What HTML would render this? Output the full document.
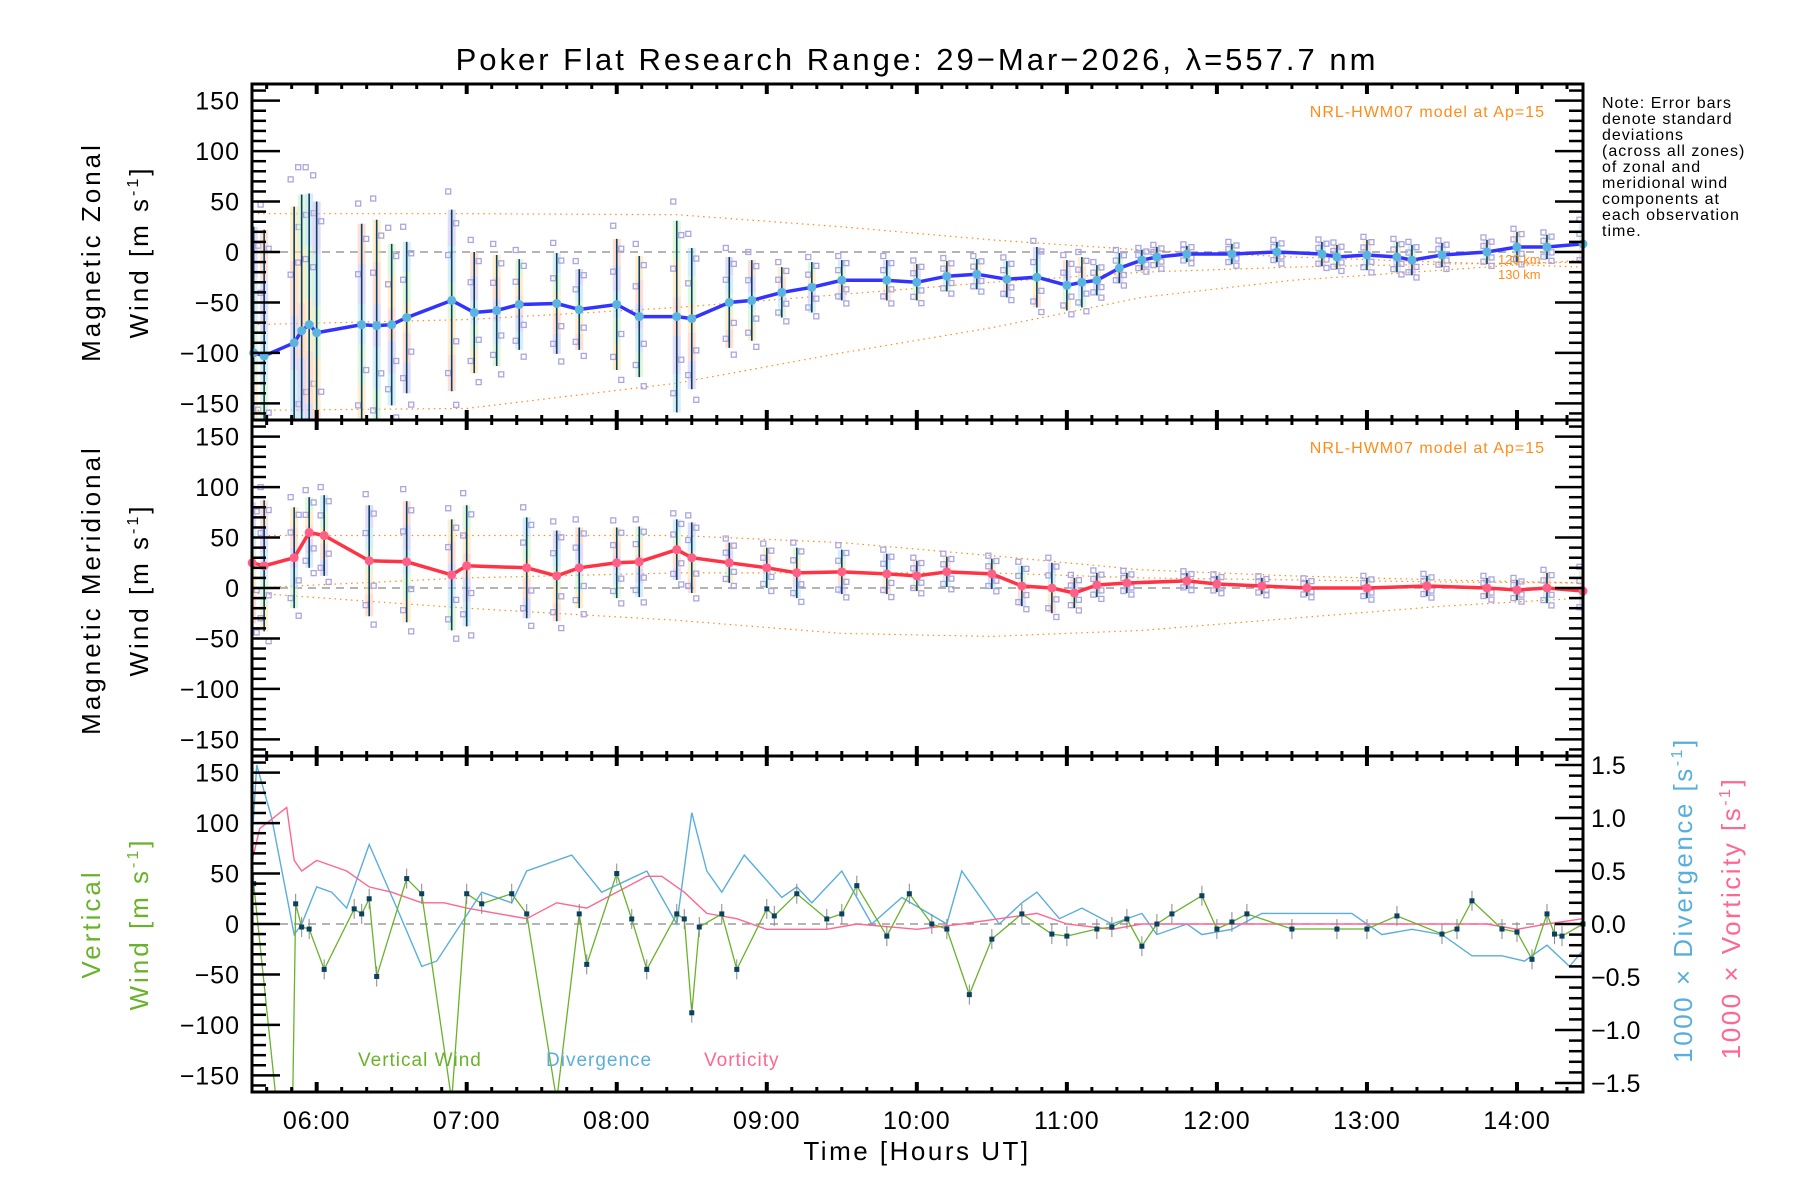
<!DOCTYPE html>
<html><head><meta charset="utf-8"><style>
html,body{margin:0;padding:0;background:#fff;}
svg{display:block;font-family:"Liberation Sans","DejaVu Sans",sans-serif;}
</style></head><body>
<svg id="chart" width="1800" height="1200" viewBox="0 0 1800 1200" xmlns="http://www.w3.org/2000/svg">
<text x="917" y="70" font-size="31" letter-spacing="3" text-anchor="middle" fill="#000">Poker Flat Research Range: 29−Mar−2026, λ=557.7 nm</text>
<g id="layer"></g>
<text x="917" y="1160" font-size="26" letter-spacing="2.5" text-anchor="middle">Time [Hours UT]</text>
<g font-size="16" letter-spacing="1" fill="#000">
<text x="1602" y="108">Note: Error bars</text><text x="1602" y="124">denote standard</text><text x="1602" y="140">deviations</text><text x="1602" y="156">(across all zones)</text><text x="1602" y="172">of zonal and</text><text x="1602" y="188">meridional wind</text><text x="1602" y="204">components at</text><text x="1602" y="220">each observation</text><text x="1602" y="236">time.</text>
</g>
<text transform="translate(100,252) rotate(-90)" font-size="26" letter-spacing="3" text-anchor="middle">Magnetic Zonal</text>
<text transform="translate(148,252) rotate(-90)" font-size="26" letter-spacing="3" text-anchor="middle">Wind [m s<tspan font-size="16" dy="-10">-1</tspan><tspan dy="10">]</tspan></text>
<text transform="translate(100,590) rotate(-90)" font-size="26" letter-spacing="3" text-anchor="middle">Magnetic Meridional</text>
<text transform="translate(148,590) rotate(-90)" font-size="26" letter-spacing="3" text-anchor="middle">Wind [m s<tspan font-size="16" dy="-10">-1</tspan><tspan dy="10">]</tspan></text>
<text transform="translate(100,924) rotate(-90)" font-size="26" letter-spacing="3" text-anchor="middle" fill="#6ab22a">Vertical</text>
<text transform="translate(148,924) rotate(-90)" font-size="26" letter-spacing="3" text-anchor="middle" fill="#6ab22a">Wind [m s<tspan font-size="16" dy="-10">-1</tspan><tspan dy="10">]</tspan></text>
<text transform="translate(1692,900) rotate(-90)" font-size="26" letter-spacing="2.5" text-anchor="middle" fill="#5aaedc">1000 × Divergence [s<tspan font-size="16" dy="-10">-1</tspan><tspan dy="10">]</tspan></text>
<text transform="translate(1740,918) rotate(-90)" font-size="26" letter-spacing="2.5" text-anchor="middle" fill="#ff6690">1000 × Vorticity [s<tspan font-size="16" dy="-10">-1</tspan><tspan dy="10">]</tspan></text>
<text x="358" y="1066" font-size="19" letter-spacing="1" fill="#6ab22a">Vertical Wind</text>
<text x="546" y="1066" font-size="19" letter-spacing="1" fill="#5aaedc">Divergence</text>
<text x="704" y="1066" font-size="19" letter-spacing="1" fill="#ff6690">Vorticity</text>
<text x="1545" y="117" font-size="16" letter-spacing="1" text-anchor="end" fill="#ff8c1a">NRL-HWM07 model at Ap=15</text>
<text x="1545" y="453" font-size="16" letter-spacing="1" text-anchor="end" fill="#ff8c1a">NRL-HWM07 model at Ap=15</text>
<text x="1498" y="264" font-size="13" fill="#ff8c1a">120 km</text>
<text x="1498" y="279" font-size="13" fill="#ff8c1a">130 km</text>
</svg>
<script>
// ---- data ----
const zonalTimes=[5.58,5.65,5.85,5.9,5.95,6.0,6.3,6.4,6.5,6.6,6.9,7.05,7.2,7.35,7.6,7.75,8.0,8.15,8.4,8.5,8.75,8.9,9.1,9.3,9.5,9.8,10.0,10.2,10.4,10.6,10.8,11.0,11.1,11.2,11.35,11.5,11.6,11.8,12.1,12.4,12.7,12.8,13.0,13.2,13.3,13.5,13.8,14.0,14.2,14.44];
const zonalValues=[-100,-103,-90,-78,-72,-80,-72,-73,-72,-65,-48,-60,-58,-52,-51,-57,-52,-64,-64,-66,-50,-48,-40,-35,-28,-28,-30,-24,-22,-27,-25,-33,-30,-28,-16,-8,-5,-2,-2,0,-2,-5,-3,-5,-8,-3,0,5,5,8];
const zonalStd=[125,125,135,135,130,130,100,105,80,75,90,60,55,45,50,40,65,60,95,70,45,40,25,25,20,20,18,15,15,18,30,25,25,15,15,10,10,8,10,10,12,12,15,15,15,12,12,15,12,20];
const meridTimes=[5.57,5.65,5.85,5.95,6.05,6.35,6.6,6.9,7.0,7.4,7.6,7.75,8.0,8.15,8.4,8.5,8.75,9.0,9.2,9.5,9.8,10.0,10.2,10.5,10.7,10.9,11.05,11.2,11.4,11.8,12.0,12.3,12.6,13.0,13.4,13.8,14.0,14.2,14.44];
const meridValues=[25,22,30,55,52,27,26,13,22,20,12,20,25,26,38,30,25,20,15,16,14,12,16,14,2,0,-5,3,5,7,4,2,0,0,2,0,-2,0,-3];
const meridStd=[60,65,50,35,40,55,60,55,60,50,45,40,35,35,30,35,20,20,25,22,20,15,15,15,20,25,15,12,10,8,8,8,8,10,10,10,10,15,20];
const hwmTimes=[5.57,7.0,8.4,9.5,10.5,11.5,12.5,13.5,14.44];
const hwmZonalUpper=[38,38,37,25,12,2,-5,-10,-15];
const hwmZonalMid=[-72,-67,-55,-42,-30,-20,-15,-12,-10];
const hwmZonalLower=[-157,-155,-130,-100,-75,-45,-28,-18,-8];
const hwmMeridUpper=[52,52,52,45,32,18,12,8,5];
const hwmMeridMid=[0,10,15,15,15,10,8,6,5];
const hwmMeridLower=[-5,-20,-32,-45,-48,-42,-30,-18,-10];
const vertTimes=[5.58,5.73,5.84,5.86,5.9,5.95,6.05,6.25,6.3,6.35,6.4,6.6,6.7,6.9,7.0,7.1,7.3,7.4,7.6,7.75,7.8,8.0,8.1,8.2,8.4,8.45,8.5,8.55,8.7,8.8,9.0,9.05,9.2,9.4,9.5,9.6,9.8,9.95,10.1,10.2,10.35,10.5,10.7,10.9,11.0,11.2,11.3,11.4,11.5,11.6,11.7,11.9,12.0,12.1,12.2,12.5,12.8,13.0,13.2,13.5,13.6,13.7,13.9,14.0,14.1,14.2,14.25,14.3,14.44];
const vertValues=[40,-175,-175,20,-3,-5,-45,15,10,25,-52,45,30,-175,30,20,30,10,-175,10,-40,50,5,-45,10,5,-88,-3,10,-45,15,8,30,5,10,38,-12,30,0,-5,-70,-15,10,-10,-12,-5,-3,5,-22,0,10,28,-5,2,10,-5,-5,-5,8,-10,-5,23,-5,-8,-35,10,-10,-12,0];
const vertMarked=[1,0,0,1,1,1,1,1,1,1,1,1,1,0,1,1,1,1,0,1,1,1,1,1,1,1,1,1,1,1,1,1,1,1,1,1,1,1,1,1,1,1,1,1,1,1,1,1,1,1,1,1,1,1,1,1,1,1,1,1,1,1,1,1,1,1,1,1,1];
const divTimes=[5.57,5.6,5.7,5.85,5.9,6.0,6.1,6.2,6.35,6.55,6.7,6.8,7.1,7.3,7.4,7.7,7.9,8.2,8.4,8.5,8.6,8.7,8.85,9.1,9.2,9.3,9.5,9.7,9.9,10.2,10.3,10.55,10.7,10.8,10.95,11.1,11.3,11.5,11.6,11.8,11.9,12.1,12.3,12.9,13.1,13.3,13.5,13.7,13.9,14.05,14.2,14.35,14.44];
const divValues=[0.8,1.5,1.0,-0.1,0.0,0.35,0.3,0.15,0.75,0.1,-0.4,-0.35,0.3,0.2,0.5,0.65,0.3,0.5,0.0,1.05,0.5,0.3,0.65,0.25,0.35,0.2,0.5,0.0,0.25,0.0,0.5,0.0,0.2,0.3,0.05,0.15,0.0,0.1,-0.1,0.0,-0.1,-0.05,0.1,0.1,-0.1,-0.05,-0.1,-0.3,-0.3,-0.35,-0.2,-0.4,-0.25];
const vorTimes=[5.57,5.62,5.8,5.85,5.9,6.0,6.2,6.35,6.5,6.7,6.85,7.0,7.2,7.4,7.6,7.8,8.0,8.2,8.3,8.45,8.6,8.8,9.0,9.4,9.6,10.0,10.3,10.8,11.0,11.3,11.5,12.0,12.5,13.5,13.8,14.0,14.2,14.44];
const vorValues=[0.6,0.9,1.1,0.6,0.5,0.6,0.5,0.35,0.3,0.2,0.2,0.15,0.1,0.05,0.2,0.15,0.3,0.45,0.45,0.3,0.1,0.05,-0.05,-0.05,0.0,-0.05,0.0,0.1,0.0,-0.05,0.0,0.0,0.0,0.0,0.0,-0.05,0.0,0.05];
const xTickLabels=["06:00","07:00","08:00","09:00","10:00","11:00","12:00","13:00","14:00"];
const xTickHours=[6,7,8,9,10,11,12,13,14];
const yTickValues=[150,100,50,0,-50,-100,-150];
const rTickValues=[1.5,1.0,0.5,0.0,-0.5,-1.0,-1.5];

// ---- axes ----
const X0=252,X1=1583,T0=5.569,T1=14.44;
const panels=[{top:84,bot:420},{top:420,bot:756},{top:756,bot:1092}];
const VR=166.5, RR=1.585;
function xs(t){return X0+(t-T0)/(T1-T0)*(X1-X0);}
function ys(p,v){const P=panels[p];const c=(P.top+P.bot)/2;return c-v/VR*(P.bot-P.top)/2;}
function yr(v){const P=panels[2];const c=(P.top+P.bot)/2;return c-v/RR*(P.bot-P.top)/2;}
const NS="http://www.w3.org/2000/svg";
const layer=document.getElementById('layer');
function mk(tag,attrs,parent){const e=document.createElementNS(NS,tag);for(const k in attrs)e.setAttribute(k,attrs[k]);(parent||layer).appendChild(e);return e;}
function clip(id,p){const d=mk('clipPath',{id:id});mk('rect',{x:X0,y:panels[p].top,width:X1-X0,height:panels[p].bot-panels[p].top},d);}
clip('c0',0);clip('c1',1);clip('c2',2);
function poly(p,ts,vs,fn,attrs,name){
  const g=mk('g',{'clip-path':'url(#c'+p+')'});
  
  
  const pts=ts.map((t,i)=>xs(t).toFixed(1)+','+fn(vs[i]).toFixed(1)).join(' ');
  const el=mk('polyline',Object.assign({points:pts,fill:'none'},attrs),g);
  return el;
}
for(let p=0;p<3;p++){
  const z=mk('line',{x1:X0,x2:X1,y1:ys(p,0),y2:ys(p,0),stroke:'#888','stroke-dasharray':'8,6','stroke-width':1.2});
  
  
}
[[0,hwmZonalUpper],[0,hwmZonalMid],[0,hwmZonalLower],[1,hwmMeridUpper],[1,hwmMeridMid],[1,hwmMeridLower]].forEach(([p,arr])=>{
  poly(p,hwmTimes,arr,v=>ys(p,v),{stroke:'#ff8c1a','stroke-width':1.2,'stroke-dasharray':'1.5,4'},'hwm-model-line');
});
const squareOffsets=[-1.15,-0.8,-0.45,0.5,0.85,1.2];
const pastel=['#ffc4b0','#ffe0a0','#c8f0c0','#b8e0f0','#c8c0f0'];
function obs(p,ts,vs,sd,name){
  const g=mk('g',{'clip-path':'url(#c'+p+')'});
  
  
  ts.forEach((t,i)=>{
    const x=xs(t);
    for(let k=0;k<5;k++){
      const a=vs[i]-sd[i]+k*(2*sd[i]/5);
      mk('rect',{x:x-4,y:ys(p,a+2*sd[i]/5),width:8,height:Math.abs(ys(p,a)-ys(p,a+2*sd[i]/5)),fill:pastel[(k+i)%5],opacity:0.55},g);
    }
    squareOffsets.forEach((o,k)=>{
      mk('rect',{x:x+((k%2)?-6:2),y:ys(p,vs[i]+o*sd[i])-2.5,width:5,height:5,fill:'none',stroke:'#aaa6e0','stroke-width':1.3},g);
    });
    mk('line',{x1:x,x2:x,y1:ys(p,vs[i]+sd[i]),y2:ys(p,vs[i]-sd[i]),stroke:'#0a4060','stroke-width':1.6},g);
  });
}
obs(0,zonalTimes,zonalValues,zonalStd,'zonal-error-bars');
obs(1,meridTimes,meridValues,meridStd,'meridional-error-bars');
poly(0,zonalTimes,zonalValues,v=>ys(0,v),{stroke:'#3333ff','stroke-width':3.5},'zonal-mean-line');
poly(1,meridTimes,meridValues,v=>ys(1,v),{stroke:'#ff3344','stroke-width':3.5},'meridional-mean-line');
zonalTimes.forEach((t,i)=>{const c=mk('circle',{cx:xs(t),cy:ys(0,zonalValues[i]),r:4.5,fill:'#5ab4e0'});});
meridTimes.forEach((t,i)=>{const c=mk('circle',{cx:xs(t),cy:ys(1,meridValues[i]),r:4.5,fill:'#ff6088'});});
poly(2,divTimes,divValues,yr,{stroke:'#5aaedc','stroke-width':1.4},'divergence-line');
poly(2,vorTimes,vorValues,yr,{stroke:'#ff6690','stroke-width':1.4},'vorticity-line');
poly(2,vertTimes,vertValues,v=>ys(2,v),{stroke:'#6ab22a','stroke-width':1.3},'vertical-wind-line');
vertTimes.forEach((t,i)=>{
  if(!vertMarked[i])return;
  const x=xs(t),y=ys(2,vertValues[i]);
  const e=mk('line',{x1:x,x2:x,y1:y-10,y2:y+10,stroke:'#888','stroke-width':1});
  
  
  const r=mk('rect',{x:x-2.5,y:y-2.5,width:5,height:5,fill:'#0a4060'});
  
  
});
for(let p=0;p<3;p++){
  const P=panels[p];
  const f=mk('rect',{x:X0,y:P.top,width:X1-X0,height:P.bot-P.top,fill:'none',stroke:'#000','stroke-width':3});
  
  
  for(let v=-160;v<=160;v+=10){
    const y=ys(p,v);const major=(v%50===0);const L=major?28:14;
    mk('line',{x1:X0,x2:X0+L,y1:y,y2:y,stroke:'#000','stroke-width':2.5});
    if(p<2) mk('line',{x1:X1,x2:X1-L,y1:y,y2:y,stroke:'#000','stroke-width':2.5});
  }
  yTickValues.forEach(v=>{
    const t=mk('text',{x:X0-12,y:ys(p,v)+9,'font-size':25,'letter-spacing':1,'text-anchor':'end'});
    
    
    t.textContent=(v<0?'−':'')+Math.abs(v);
  });
  for(let m=Math.ceil(T0*6);m<=Math.floor(T1*6);m++){
    const x=xs(m/6);const major=(m%6===0);const L=major?10:5;
    mk('line',{x1:x,x2:x,y1:P.top,y2:P.top+L,stroke:'#000','stroke-width':major?4:3});
    mk('line',{x1:x,x2:x,y1:P.bot,y2:P.bot-L,stroke:'#000','stroke-width':major?4:3});
  }
}
for(let v=-15;v<=15;v++){
  const y=yr(v/10);const L=(v%5===0)?28:14;
  mk('line',{x1:X1,x2:X1-L,y1:y,y2:y,stroke:'#000','stroke-width':2.5});
}
rTickValues.forEach(v=>{
  const t=mk('text',{x:X1+8,y:yr(v)+9,'font-size':25});
  
  
  t.textContent=(v<0?'−':'')+Math.abs(v).toFixed(1);
});
xTickHours.forEach((h,i)=>{
  const t=mk('text',{x:xs(h),y:1129,'font-size':25,'letter-spacing':1,'text-anchor':'middle'});
  
  
  t.textContent=xTickLabels[i];
});
</script>
</body></html>
